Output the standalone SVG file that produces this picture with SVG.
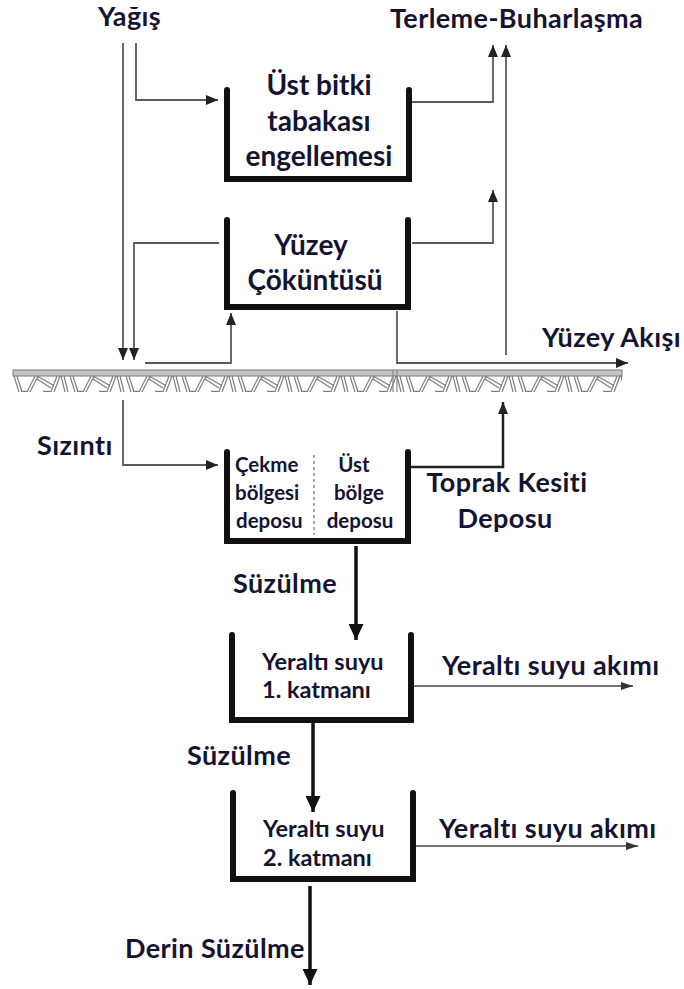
<svg xmlns="http://www.w3.org/2000/svg" width="684" height="989" viewBox="0 0 684 989">
<style>
.t{font-family:Lato,"Open Sans","Liberation Sans",sans-serif;font-weight:bold;fill:#141432}
.lg{font-size:27px;letter-spacing:0.4px}
.bx{font-size:28px}
.sm{font-size:20.5px}
.md{font-size:23.5px}
.wall{fill:none;stroke:#111;stroke-width:6;stroke-linejoin:miter;stroke-linecap:round}
.thin{fill:none;stroke:#5a5a5a;stroke-width:1.8}
.mid{fill:none;stroke:#222;stroke-width:2.5}
.thick{fill:none;stroke:#111;stroke-width:3.5}
.gw{fill:none;stroke:#444;stroke-width:1.6}
.hat{fill:none;stroke:#7d7d7d;stroke-width:1.2}
</style>
<defs>
<marker id="ah" viewBox="0 0 12 10" refX="12" refY="5" markerWidth="12" markerHeight="10" markerUnits="userSpaceOnUse" orient="auto"><path d="M0,0 L12,5 L0,10 z" fill="#222"/></marker>
<marker id="ahs" viewBox="0 0 12 8" refX="12" refY="4" markerWidth="12" markerHeight="8" markerUnits="userSpaceOnUse" orient="auto"><path d="M0,0 L12,4 L0,8 z" fill="#333"/></marker>
<marker id="ahb" viewBox="0 0 16 15" refX="16" refY="7.5" markerWidth="16" markerHeight="15" markerUnits="userSpaceOnUse" orient="auto"><path d="M0,0 L16,7.5 L0,15 z" fill="#111"/></marker>
<pattern id="soil" x="13" y="376" width="56" height="16" patternUnits="userSpaceOnUse">
<path class="hat" d="M1,0 L6,16 M4,0 L9,16 M14,16 L22,0 M17,16 L25,0 M24,0 L40,9 M24,3 L38,12 M38,16 L44,0 M41,16 L47,0 M48,0 L52,16 M51,0 L55,16 M9,15.4 L14,15.4 M30,15.4 L38,15.4"/>
</pattern>
</defs>

<g id="ground">
<rect x="13" y="376" width="609" height="16" fill="url(#soil)"/>
<rect x="13" y="370" width="609" height="6" fill="#c4c4c4" stroke="#777" stroke-width="1"/>
<path d="M393,370 V392 M397,370 V392" stroke="#888" stroke-width="1.2"/>
</g>

<g id="connectors">
<path class="thin" d="M123,43 V360" marker-end="url(#ah)"/>
<path class="thin" d="M136,43 V100 H218" marker-end="url(#ah)"/>
<path class="thin" d="M412,102 H493 V45" marker-end="url(#ah)"/>
<path class="thin" d="M506,355 V45" marker-end="url(#ah)"/>
<path class="thin" d="M219,243 H134 V360" marker-end="url(#ah)"/>
<path class="thin" d="M145,363 H231 V313" marker-end="url(#ah)"/>
<path class="thin" d="M412,243 H493 V190" marker-end="url(#ah)"/>
<path class="thin" d="M397,311 V363 H628" marker-end="url(#ah)"/>
<path class="thin" d="M123,400 V465 H218" marker-end="url(#ah)"/>
<path class="mid" d="M411,467 H503 V402" marker-end="url(#ah)"/>
<path class="thick" d="M356,546 V640" marker-end="url(#ahb)"/>
<path class="gw" d="M414,686 H633" marker-end="url(#ahs)"/>
<path class="thick" d="M313,723 V812" marker-end="url(#ahb)"/>
<path class="gw" d="M416,846 H638" marker-end="url(#ahs)"/>
<path class="thick" d="M310,886 V985" marker-end="url(#ahb)"/>
</g>

<g id="labels">
<text class="t lg" x="98" y="26">Yağış</text>
<text class="t lg" x="390" y="28">Terleme-Buharlaşma</text>
<text class="t lg" x="542" y="347">Yüzey Akışı</text>
<text class="t lg" x="37" y="455">Sızıntı</text>
<text class="t lg" x="507" y="492" text-anchor="middle">Toprak Kesiti</text>
<text class="t lg" x="505" y="528" text-anchor="middle">Deposu</text>
<text class="t lg" x="233" y="593">Süzülme</text>
<text class="t lg" x="442" y="675">Yeraltı suyu akımı</text>
<text class="t lg" x="187" y="765">Süzülme</text>
<text class="t lg" x="439" y="838">Yeraltı suyu akımı</text>
<text class="t lg" x="125" y="958">Derin Süzülme</text>
</g>

<g id="box1">
<path class="wall" d="M227,90 V179 H409 V90"/>
<text class="t bx" x="319" y="95" text-anchor="middle">Üst bitki</text>
<text class="t bx" x="319" y="131" text-anchor="middle">tabakası</text>
<text class="t bx" x="319" y="166" text-anchor="middle">engellemesi</text>
</g>

<g id="box2">
<path class="wall" d="M227,220 V307 H408 V220"/>
<text class="t bx" x="311" y="255" text-anchor="middle">Yüzey</text>
<text class="t bx" x="315" y="290" text-anchor="middle">Çöküntüsü</text>
</g>

<g id="box3">
<path class="wall" d="M227,452 V541 H408 V452"/>
<path d="M314,455 V535" stroke="#8a8a8a" stroke-width="1.5" stroke-dasharray="3,3"/>
<text class="t sm" x="235" y="472">Çekme</text>
<text class="t sm" x="235" y="500">bölgesi</text>
<text class="t sm" x="236" y="528">deposu</text>
<text class="t sm" x="354" y="472" text-anchor="middle">Üst</text>
<text class="t sm" x="359" y="500" text-anchor="middle">bölge</text>
<text class="t sm" x="360" y="528" text-anchor="middle">deposu</text>
</g>

<g id="box4">
<path class="wall" d="M232,635 V720 H411 V635"/>
<text class="t md" x="262" y="670">Yeraltı suyu</text>
<text class="t md" x="262" y="698">1. katmanı</text>
</g>

<g id="box5">
<path class="wall" d="M233,793 V879 H413 V793"/>
<text class="t md" x="263" y="837">Yeraltı suyu</text>
<text class="t md" x="263" y="866">2. katmanı</text>
</g>
</svg>
